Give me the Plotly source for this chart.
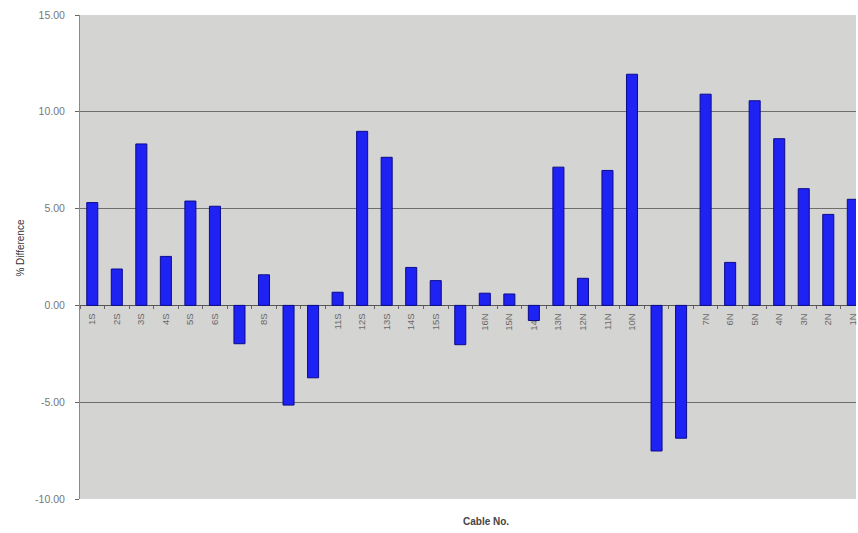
import plotly.graph_objects as go

# Cable identifiers along the bridge: south side then north side
cables = [f"{i}S" for i in range(1, 17)] + [f"{i}N" for i in range(16, 0, -1)]

# Percentage difference per cable
pct_diff = [
    5.31, 1.88, 8.34, 2.53, 5.39, 5.12, -1.98, 1.58,
    -5.15, -3.74, 0.68, 8.99, 7.65, 1.96, 1.28, -2.03,
    0.63, 0.59, -0.78, 7.14, 1.40, 6.97, 11.94, -7.52,
    -6.86, 10.91, 2.22, 10.57, 8.61, 6.03, 4.70, 5.48,
]

y_ticks = [-10, -5, 0, 5, 10, 15]
y_min, y_max = -10, 15

font_family = "Liberation Sans, Arial, sans-serif"

fig = go.Figure(
    go.Bar(
        x=cables,
        y=pct_diff,
        width=0.45,
        marker=dict(color="#1e22f2", line=dict(color="#0b0b8c", width=1)),
    )
)

fig.update_layout(
    width=858,
    height=533,
    margin=dict(l=80, r=0, t=15, b=34),
    paper_bgcolor="white",
    plot_bgcolor="#d4d4d2",
    showlegend=False,
    font=dict(family=font_family),
    xaxis=dict(
        type="category",
        range=[-0.5, 31.13],
        anchor="free",
        position=(0 - y_min) / (y_max - y_min),
        tickangle=-90,
        ticks="outside",
        tickson="boundaries",
        ticklen=3,
        tickcolor="#666666",
        tickfont=dict(size=9.5, color="#6a6a6a"),
        ticklabelstandoff=5,
        showgrid=False,
        showline=False,
        layer="below traces",
    ),
    yaxis=dict(
        range=[y_min, y_max],
        tickvals=y_ticks,
        ticktext=[f"{v:.2f}" for v in y_ticks],
        tickfont=dict(size=10.5, color="#777777"),
        ticks="outside",
        ticklen=4,
        tickcolor="#666666",
        ticklabelstandoff=8,
        showgrid=True,
        gridcolor="#6e6e6e",
        gridwidth=1,
        zeroline=True,
        zerolinecolor="#555555",
        zerolinewidth=1,
        showline=True,
        linecolor="#8a8a8a",
        linewidth=1,
    ),
    annotations=[
        dict(
            text="% Difference",
            xref="paper", yref="paper",
            x=-0.077, y=0.52,
            xanchor="center", yanchor="middle",
            textangle=-90,
            showarrow=False,
            font=dict(size=10, color="#333333"),
        ),
        dict(
            text="<b>Cable No.</b>",
            xref="paper", yref="paper",
            x=0.523, y=-0.046,
            xanchor="center", yanchor="middle",
            showarrow=False,
            font=dict(size=10, color="#444444"),
        ),
    ],
)

fig.write_html("out.html")
